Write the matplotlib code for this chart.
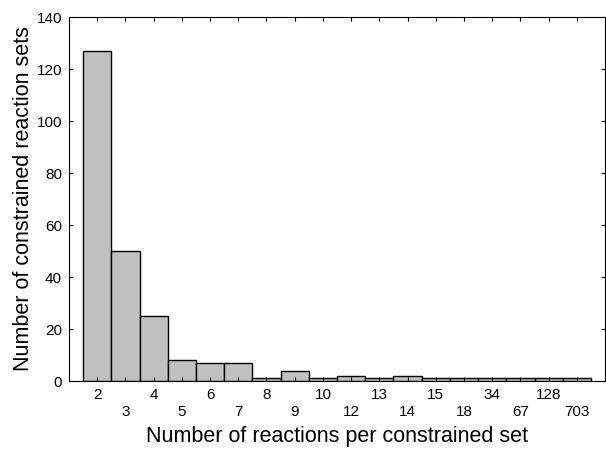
import matplotlib
matplotlib.use("Agg")
import matplotlib.pyplot as plt

categories = ["2", "3", "4", "5", "6", "7", "8", "9", "10", "12", "13", "14", "15", "18", "34", "67", "128", "703"]
counts = [127, 50, 25, 8, 7, 7, 1, 4, 1, 2, 1, 2, 1, 1, 1, 1, 1, 1]

plt.rcParams['font.family'] = ['Liberation Sans', 'DejaVu Sans']
fig = plt.figure(figsize=(6.06, 4.49), dpi=100)
ax = fig.add_axes([0.1139, 0.1514, 0.8845, 0.8106])
x = list(range(len(categories)))
ax.bar(x, counts, width=1.0, color="#c0c0c0", edgecolor="black", linewidth=1.0)
ax.set_xlim(-1, 18)
ax.set_ylim(0, 140)
ax.set_yticks(range(0, 141, 20))
labels = [c if i % 2 == 0 else "\n" + c for i, c in enumerate(categories)]
ax.set_xticks(x)
ax.set_xticklabels(labels, linespacing=1.3)
ax.tick_params(axis='both', direction='in', top=True, right=True, length=3, labelsize=11)
ax.tick_params(axis='x', pad=5)
ax.tick_params(axis='y', pad=5)
ax.set_xlabel("Number of reactions per constrained set", fontsize=15.5, labelpad=5)
ax.set_ylabel("Number of constrained reaction sets", fontsize=15.5, labelpad=2)
fig.savefig("out.png", dpi=100)
